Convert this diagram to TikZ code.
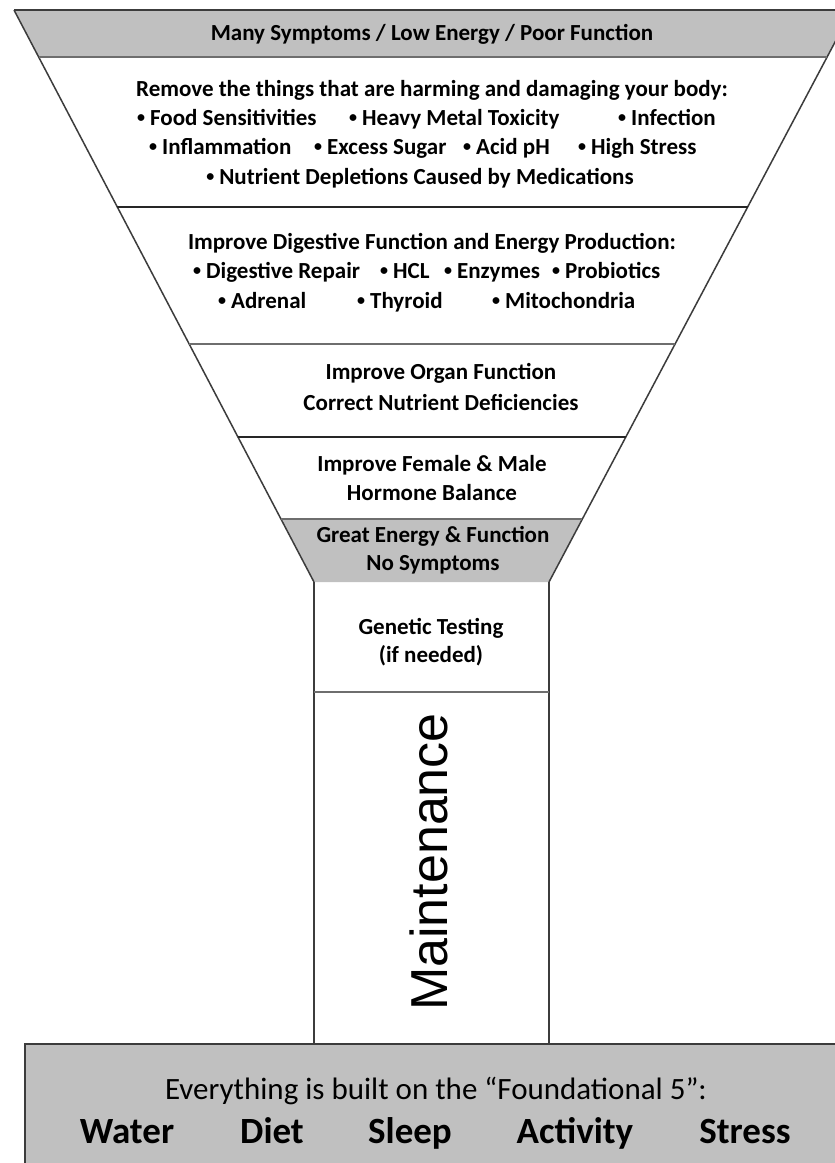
\documentclass[tikz,border=0pt]{standalone}
\usepackage{fontspec}
\setmainfont{Carlito}
\newfontfamily\arialf{Liberation Sans}
\usetikzlibrary{calc}
\definecolor{bandgray}{RGB}{192,192,192}
\definecolor{edgegray}{RGB}{60,60,60}
\definecolor{divgray}{RGB}{110,110,110}
\newcommand{\bul}{{\fontsize{16}{16}\selectfont\raisebox{2.4pt}{•}}\hspace{5pt}}
\begin{document}
\begin{tikzpicture}[x=1pt,y=-1pt,
  bandfill/.style={fill=bandgray},
  edgeline/.style={draw=edgegray,line width=1.5pt},
  divline/.style={draw=black!85,line width=2pt},
  divlight/.style={draw=divgray,line width=2.2pt},
  txt/.style={font=\bfseries\fontsize{23}{28}\selectfont,inner sep=0pt,anchor=base},
  item/.style={txt,anchor=base west},
  foot/.style={font=\fontsize{31}{36}\selectfont,inner sep=0pt,anchor=base},
  word/.style={font=\bfseries\fontsize{37}{44}\selectfont,inner sep=0pt,anchor=base}]
\useasboundingbox (0,0) rectangle (835,1163);
\fill[white] (0,0) rectangle (835,1163);
% funnel corners
\coordinate (TL) at (14,10);
\coordinate (TR) at (852,10);
\coordinate (BL) at (314,582);
\coordinate (BR) at (549,582);
\coordinate (L1) at ($(TL)!0.0822!(BL)$);
\coordinate (R1) at ($(TR)!0.0822!(BR)$);
\coordinate (L2) at ($(TL)!0.3444!(BL)$);
\coordinate (R2) at ($(TR)!0.3444!(BR)$);
\coordinate (L3) at ($(TL)!0.5839!(BL)$);
\coordinate (R3) at ($(TR)!0.5839!(BR)$);
\coordinate (L4) at ($(TL)!0.7465!(BL)$);
\coordinate (R4) at ($(TR)!0.7465!(BR)$);
\coordinate (L5) at ($(TL)!0.8899!(BL)$);
\coordinate (R5) at ($(TR)!0.8899!(BR)$);
\coordinate (SL) at (314,1044);
\coordinate (SR) at (549,1044);
\coordinate (SDL) at (314,692);
\coordinate (SDR) at (549,692);
% fills
\fill[bandfill] (TL) -- (TR) -- (R1) -- (L1) -- cycle;
\fill[bandfill] (L5) -- (R5) -- (BR) -- (BL) -- cycle;
% bottom foundation box
\draw[edgeline,fill=bandgray] (25,1044) rectangle (870,1190);
% outlines
\draw[edgeline] (TL) -- (TR);
\draw[edgeline] (TL) -- (BL);
\draw[edgeline] (TR) -- (BR);
\draw[divlight] (L1) -- (R1);
\draw[divline] (L2) -- (R2);
\draw[divlight] (L3) -- (R3);
\draw[divline] (L4) -- (R4);
\draw[divlight] (L5) -- (R5);
\draw[edgeline] (BL) -- (SL);
\draw[edgeline] (BR) -- (SR);
\draw[divlight] (SDL) -- (SDR);
% texts
\node[txt] (t0) at (432,40) {Many Symptoms / Low Energy / Poor Function};
\node[txt] (t1) at (432,96) {Remove the things that are harming and damaging your body:};
\node[item] (a1) at (137,125) {\bul Food Sensitivities};
\node[item] (a2) at (349,125) {\bul Heavy Metal Toxicity};
\node[item] (a3) at (618,125) {\bul Infection};
\node[item] (b1) at (149,154) {\bul Inflammation};
\node[item] (b2) at (314,154) {\bul Excess Sugar};
\node[item] (b3) at (463,154) {\bul Acid pH};
\node[item] (b4) at (578,154) {\bul High Stress};
\node[txt] (c1) at (420,184) {\bul Nutrient Depletions Caused by Medications};
\node[txt] (t2) at (432,249) {Improve Digestive Function and Energy Production:};
\node[item] (d1) at (193,278) {\bul Digestive Repair};
\node[item] (d2) at (380,278) {\bul HCL};
\node[item] (d3) at (444,278) {\bul Enzymes};
\node[item] (d4) at (552,278) {\bul Probiotics};
\node[item] (e1) at (218,308) {\bul Adrenal};
\node[item] (e2) at (357,308) {\bul Thyroid};
\node[item] (e3) at (492,308) {\bul Mitochondria};
\node[txt] (t3) at (441,379) {Improve Organ Function};
\node[txt] (t3b) at (441,410) {Correct Nutrient Deficiencies};
\node[txt] (t4) at (432,471) {Improve Female \& Male};
\node[txt] (t4b) at (432,500) {Hormone Balance};
\node[txt] (t5) at (433,542) {Great Energy \& Function};
\node[txt] (t5b) at (433,570) {No Symptoms};
\node[txt] (g1) at (431,634) {Genetic Testing};
\node[txt] (g2) at (431,662) {(if needed)};
\node[font=\arialf\fontsize{52}{58}\selectfont,inner sep=0pt,rotate=90] (m) at (429,862) {Maintenance};
\node[foot] (f0) at (436,1099) {Everything is built on the “Foundational 5”:};
\node[word] (w1) at (127,1143) {Water};
\node[word] (w2) at (272,1143) {Diet};
\node[word] (w3) at (410,1143) {Sleep};
\node[word] (w4) at (575,1143) {Activity};
\node[word] (w5) at (745,1143) {Stress};
\end{tikzpicture}
\end{document}
